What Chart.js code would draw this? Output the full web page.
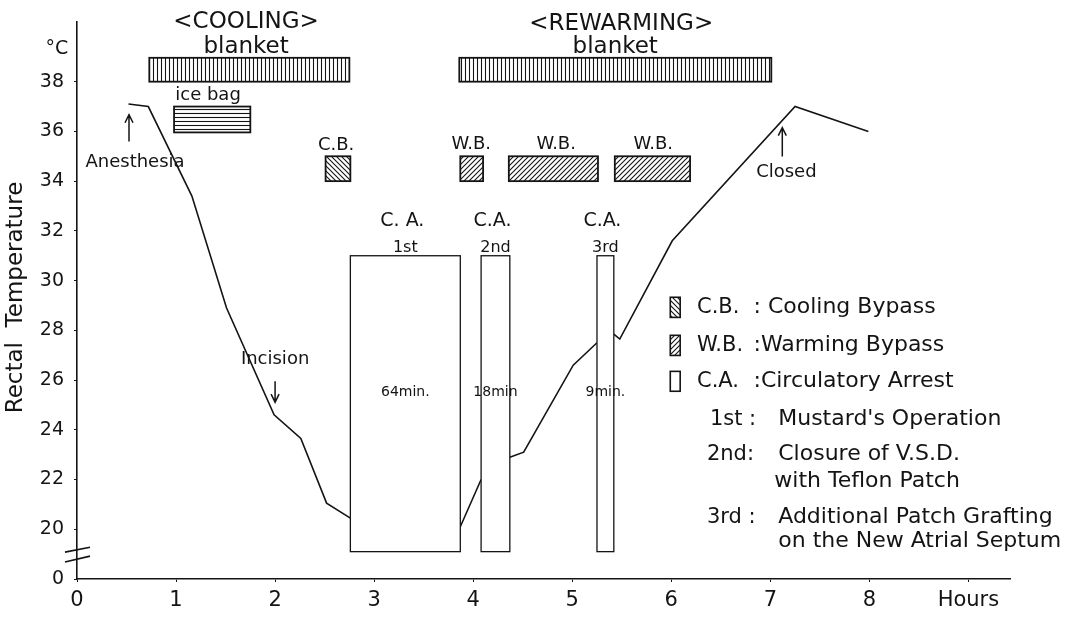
<!DOCTYPE html>
<html>
<head>
<meta charset="utf-8">
<script src="https://cdn.jsdelivr.net/npm/chart.js@4.4.1/dist/chart.umd.min.js"></script>
<style>
  html, body { margin: 0; padding: 0; background: #fff; }
</style>
</head>
<body>
<canvas id="myChart" width="1067" height="618"></canvas>
<script>
// rectal temperature curve, null = no reading during circulatory arrest
const hours = [0.52, 0.72, 1.16, 1.51, 1.99, 2.26, 2.52, 2.76, 3.3, 3.87, 4.08, 4.2, 4.37, 4.51, 5.01, 5.25, 5.35, 5.42, 5.48, 6.01, 7.25, 7.99];
const temps = [37.1, 37.0, 33.4, 28.9, 24.6, 23.65, 21.05, 20.45, null, 20.1, 22.0, null, 22.9, 23.1, 26.6, 27.5, null, 27.85, 27.65, 31.6, 37.0, 36.0];

// blanket / ice bag / bypass bands
const bandKind = ['blanket', 'ice', 'cb', 'blanket', 'wb', 'wb', 'wb'];
const bandStart = [0.73, 0.98, 2.51, 3.86, 3.87, 4.36, 5.43];
const bandEnd = [2.75, 1.75, 2.76, 7.01, 4.10, 5.26, 6.19];
const bandLow = [38.0, 35.96, 34.0, 38.0, 34.0, 34.0, 34.0];
const bandHigh = [38.96, 37.0, 35.0, 38.96, 35.0, 35.0, 35.0];

// circulatory arrests
const arrestStart = [2.76, 4.08, 5.25];
const arrestEnd = [3.87, 4.37, 5.42];
const arrestLow = 19.1;
const arrestHigh = 31.0;
const arrestTitle = ['C. A.', 'C.A.', 'C.A.'];
const arrestOrder = ['1st', '2nd', '3rd'];
const arrestTime = ['64min.', '18min', '9min.'];

const yTicks = [18, 20, 22, 24, 26, 28, 30, 32, 34, 36, 38];
const xTicks = [0, 1, 2, 3, 4, 5, 6, 7, 8, 9];

const FONT = '"DejaVu Sans", sans-serif';
const INK = '#141414';

function hatch(ctx, kind) {
  const c = document.createElement('canvas');
  const s = (kind === 'blanket' || kind === 'ice') ? 4 : 5;
  c.width = s; c.height = s;
  const g = c.getContext('2d');
  g.fillStyle = '#fff';
  g.fillRect(0, 0, s, s);
  g.strokeStyle = INK;
  g.lineWidth = 1.1;
  g.beginPath();
  if (kind === 'blanket') { g.moveTo(1.5, 0); g.lineTo(1.5, s); }
  else if (kind === 'ice') { g.moveTo(0, 1.5); g.lineTo(s, 1.5); }
  else if (kind === 'cb') {
    g.moveTo(0, 0); g.lineTo(s, s);
    g.moveTo(-1, s - 1); g.lineTo(1, s + 1);
    g.moveTo(s - 1, -1); g.lineTo(s + 1, 1);
  } else {
    g.moveTo(0, s); g.lineTo(s, 0);
    g.moveTo(-1, 1); g.lineTo(1, -1);
    g.moveTo(s - 1, s + 1); g.lineTo(s + 1, s - 1);
  }
  g.stroke();
  return ctx.createPattern(c, 'repeat');
}

function text(ctx, str, x, y, size, align) {
  ctx.font = size + 'px ' + FONT;
  ctx.textAlign = align || 'center';
  ctx.textBaseline = 'middle';
  ctx.fillText(str, x, y);
}

function arrow(ctx, x, y0, y1) {
  const d = y1 > y0 ? 1 : -1;
  ctx.beginPath();
  ctx.moveTo(x, y0); ctx.lineTo(x, y1);
  ctx.moveTo(x - 4, y1 - d * 8); ctx.lineTo(x, y1); ctx.lineTo(x + 4, y1 - d * 8);
  ctx.stroke();
}

const overlay = {
  id: 'overlay',
  afterDatasetsDraw(chart) {
    const { ctx, scales: { x, y } } = chart;
    const X = v => x.getPixelForValue(v);
    const Y = v => y.getPixelForValue(v);
    ctx.save();
    ctx.fillStyle = INK;
    ctx.strokeStyle = INK;

    // hatched bands
    bandStart.forEach((s, i) => {
      const l = X(s), r = X(bandEnd[i]), t = Y(bandHigh[i]), b = Y(bandLow[i]);
      ctx.fillStyle = hatch(ctx, bandKind[i]);
      ctx.fillRect(l, t, r - l, b - t);
      ctx.lineWidth = 1.8;
      ctx.strokeRect(l, t, r - l, b - t);
    });

    // arrest boxes
    ctx.fillStyle = INK;
    arrestStart.forEach((s, i) => {
      const l = X(s), r = X(arrestEnd[i]), t = Y(arrestHigh), b = Y(arrestLow);
      ctx.fillStyle = '#fff';
      ctx.fillRect(l, t, r - l, b - t);
      ctx.lineWidth = 1.3;
      ctx.strokeRect(l, t, r - l, b - t);
      ctx.fillStyle = INK;
      const c = (l + r) / 2;
      text(ctx, arrestTitle[i], c - 3, Y(32.38), 19);
      text(ctx, arrestOrder[i], c, Y(31.33), 16);
      text(ctx, arrestTime[i], c, Y(25.51), 14);
    });

    // annotations
    ctx.lineWidth = 1.5;
    text(ctx, '<COOLING>', X(1.707), Y(40.41), 23);
    text(ctx, 'blanket', X(1.707), Y(39.41), 23);
    text(ctx, 'ice bag', X(1.323), Y(37.44), 18);
    text(ctx, 'C.B.', X(2.616), Y(35.43), 18);
    text(ctx, 'Anesthesia', X(0.586), Y(34.75), 18);
    arrow(ctx, X(0.525), Y(35.59), Y(36.67));
    text(ctx, '<REWARMING>', X(5.495), Y(40.33), 23);
    text(ctx, 'blanket', X(5.434), Y(39.41), 23);
    [3.98, 4.838, 5.818].forEach(h => text(ctx, 'W.B.', X(h), Y(35.47), 18));
    text(ctx, 'Closed', X(7.162), Y(34.35), 18);
    arrow(ctx, X(7.121), Y(34.99), Y(36.15));
    text(ctx, 'Incision', X(2.0), Y(26.84), 18);
    arrow(ctx, X(2.0), Y(25.95), Y(25.11));

    // legend block
    const sw = (kind, top, bot) => {
      const l = X(5.99), r = X(6.09), t = Y(top), b = Y(bot);
      ctx.fillStyle = kind ? hatch(ctx, kind) : '#fff';
      ctx.fillRect(l, t, r - l, b - t);
      ctx.lineWidth = 1.6;
      ctx.strokeRect(l, t, r - l, b - t);
      ctx.fillStyle = INK;
    };
    sw('cb', 29.33, 28.52);
    sw('wb', 27.8, 26.99);
    sw(null, 26.35, 25.55);
    text(ctx, 'C.B.', X(6.26), Y(28.92), 21, 'left');
    text(ctx, ': Cooling Bypass', X(6.83), Y(28.92), 22, 'left');
    text(ctx, 'W.B.', X(6.26), Y(27.4), 21, 'left');
    text(ctx, ':Warming Bypass', X(6.83), Y(27.4), 22, 'left');
    text(ctx, 'C.A.', X(6.26), Y(25.95), 21, 'left');
    text(ctx, ':Circulatory Arrest', X(6.83), Y(25.95), 22, 'left');
    text(ctx, '1st :', X(6.39), Y(24.43), 21, 'left');
    text(ctx, "Mustard's Operation", X(7.08), Y(24.43), 22, 'left');
    text(ctx, '2nd:', X(6.36), Y(23.02), 21, 'left');
    text(ctx, 'Closure of V.S.D.', X(7.08), Y(23.02), 22, 'left');
    text(ctx, 'with Teflon Patch', X(7.04), Y(21.94), 22, 'left');
    text(ctx, '3rd :', X(6.36), Y(20.49), 21, 'left');
    text(ctx, 'Additional Patch Grafting', X(7.08), Y(20.49), 22, 'left');
    text(ctx, 'on the New Atrial Septum', X(7.08), Y(19.53), 22, 'left');

    // axis break marks, axis title and unit
    const ax = x.left;
    ctx.lineWidth = 1.6;
    ctx.beginPath();
    ctx.moveTo(ax - 12, Y(19.08)); ctx.lineTo(ax + 13, Y(19.28));
    ctx.moveTo(ax - 12, Y(18.68)); ctx.lineTo(ax + 13, Y(18.92));
    ctx.stroke();
    text(ctx, '°C', ax - 20, Y(39.3), 19);
    ctx.translate(16, (chart.chartArea.top + chart.chartArea.bottom) / 2 - 3);
    ctx.rotate(-Math.PI / 2);
    text(ctx, 'Rectal  Temperature', 0, 0, 23);
    ctx.restore();
  }
};

const ctx = document.getElementById('myChart').getContext('2d');

const config = {
  type: 'line',
  data: {
    datasets: [{
      data: hours.map((h, i) => ({ x: h, y: temps[i] })),
      borderColor: INK,
      borderWidth: 1.6,
      pointRadius: 0,
      tension: 0,
      spanGaps: false
    }]
  },
  options: {
    responsive: false,
    animation: false,
    devicePixelRatio: 1,
    layout: { padding: { top: 22, right: 57, left: 0, bottom: 0 } },
    plugins: { legend: { display: false }, tooltip: { enabled: false } },
    scales: {
      x: {
        type: 'linear',
        min: 0,
        max: 9.42,
        afterBuildTicks: s => { s.ticks = xTicks.map(v => ({ value: v })); },
        afterFit: s => { s.height = 39; },
        border: { color: INK, width: 1.6 },
        grid: { drawOnChartArea: false, drawTicks: true, tickLength: 3, color: INK },
        ticks: {
          color: INK,
          padding: 6,
          maxRotation: 0,
          font: { family: FONT, size: 21 },
          callback: v => v === 9 ? 'Hours' : v
        }
      },
      y: {
        type: 'linear',
        min: 18,
        max: 40.4,
        afterBuildTicks: s => { s.ticks = yTicks.map(v => ({ value: v })); },
        afterFit: s => { s.width = 77; },
        border: { color: INK, width: 1.6 },
        grid: { drawOnChartArea: false, drawTicks: true, tickLength: 3, color: INK },
        ticks: {
          color: INK,
          padding: 10,
          font: { family: FONT, size: 19 },
          callback: v => v === 18 ? '0' : v
        }
      }
    }
  },
  plugins: [overlay]
};

const myChart = new Chart(ctx, config);
</script>
</body>
</html>
